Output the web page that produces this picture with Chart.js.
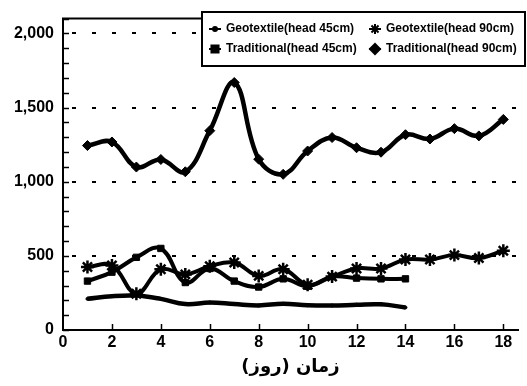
<!DOCTYPE html>
<html>
<head>
<meta charset="utf-8">
<script src="https://cdn.jsdelivr.net/npm/chart.js@4/dist/chart.umd.min.js"></script>
<style>
  html, body { margin: 0; padding: 0; background: #fff; }
  #wrap { width: 527px; height: 386px; position: relative; }
</style>
</head>
<body>
<div id="wrap"><canvas id="chart"></canvas></div>
<script>
// Days on the x axis
const daysLong = [1, 2, 3, 4, 5, 6, 7, 8, 9, 10, 11, 12, 13, 14, 15, 16, 17, 18];
const daysShort = [1, 2, 3, 4, 5, 6, 7, 8, 9, 10, 11, 12, 13, 14];
const xTickValues = [0, 2, 4, 6, 8, 10, 12, 14, 16, 18];

// Series values
const geotextile45 = [210, 228, 232, 210, 175, 185, 175, 166, 177, 167, 165, 170, 173, 152];
const geotextile90 = [425, 435, 245, 410, 375, 430, 455, 365, 410, 305, 360, 415, 415, 475, 475, 505, 485, 535];
const traditional45 = [330, 390, 490, 550, 320, 415, 330, 290, 345, 295, 360, 350, 345, 345];
const traditional90 = [1244, 1268, 1099, 1150, 1067, 1344, 1669, 1152, 1050, 1207, 1298, 1229, 1199, 1317, 1288, 1358, 1309, 1420];

// Labels
const seriesLabels = ['Geotextile(head 45cm)', 'Geotextile(head 90cm)', 'Traditional(head 45cm)', 'Traditional(head 90cm)'];
const xTitle = 'زمان (روز)';

// Turn x and y arrays into points for a linear x axis
function toPoints(xs, ys) {
  return ys.map((y, i) => ({ x: xs[i], y: y }));
}

// Draw tick marks pointing into the plot, plus the top frame line
const frameTicks = {
  id: 'frameTicks',
  afterDraw(chart) {
    const ctx = chart.ctx;
    const area = chart.chartArea;
    const xs = chart.scales.x;
    const ys = chart.scales.y;
    ctx.save();
    ctx.strokeStyle = '#000';
    ctx.lineWidth = 2;
    ctx.beginPath();
    ctx.moveTo(area.left - 1, area.top);
    ctx.lineTo(area.right, area.top);
    ctx.stroke();
    ctx.lineWidth = 1.5;
    for (let v = 0; v <= 2100; v += 100) {
      const py = Math.round(ys.getPixelForValue(v)) + 0.5;
      ctx.beginPath();
      ctx.moveTo(area.left, py);
      ctx.lineTo(area.left + 6, py);
      ctx.stroke();
    }
    xTickValues.slice(1).forEach(d => {
      const px = Math.round(xs.getPixelForValue(d)) + 0.5;
      ctx.beginPath();
      ctx.moveTo(px, area.bottom);
      ctx.lineTo(px, area.bottom - 6);
      ctx.stroke();
    });
    ctx.restore();
  }
};

// Boxed legend in the top right corner
const boxLegend = {
  id: 'boxLegend',
  afterDraw(chart) {
    const ctx = chart.ctx;
    ctx.save();
    ctx.fillStyle = '#fff';
    ctx.fillRect(202, 12, 323, 54);
    ctx.strokeStyle = '#000';
    ctx.lineWidth = 2;
    ctx.strokeRect(202, 12, 323, 54);
    const cols = [215, 375];
    const rows = [29, 49];
    ctx.font = 'bold 12px "Liberation Sans", Arial, sans-serif';
    ctx.textBaseline = 'middle';
    ctx.fillStyle = '#000';
    chart.data.datasets.forEach((ds, i) => {
      const cx = cols[i % 2];
      const cy = rows[Math.floor(i / 2)];
      ctx.lineWidth = 2;
      ctx.beginPath();
      ctx.moveTo(cx - 6, cy);
      ctx.lineTo(cx + 6, cy);
      ctx.stroke();
      Chart.helpers.drawPoint(ctx, {
        pointStyle: ds.pointStyle,
        radius: Math.min(ds.pointRadius + 0.5, 5),
        borderWidth: ds.pointBorderWidth,
        rotation: 0
      }, cx, cy);
      ctx.fillText(ds.label, cx + 11, cy);
    });
    ctx.restore();
  }
};

const commonLine = {
  borderColor: '#000',
  backgroundColor: '#000',
  pointBorderColor: '#000',
  pointBackgroundColor: '#000',
  tension: 0.4,
  fill: false
};

new Chart(document.getElementById('chart'), {
  type: 'line',
  data: {
    datasets: [
      Object.assign({}, commonLine, {
        label: seriesLabels[0],
        data: toPoints(daysShort, geotextile45),
        borderWidth: 4.5,
        pointStyle: 'circle',
        pointRadius: 1.5,
        pointBorderWidth: 1
      }),
      Object.assign({}, commonLine, {
        label: seriesLabels[1],
        data: toPoints(daysLong, geotextile90),
        borderWidth: 4,
        pointStyle: 'star',
        pointRadius: 6.5,
        pointBorderWidth: 2.5
      }),
      Object.assign({}, commonLine, {
        label: seriesLabels[2],
        data: toPoints(daysShort, traditional45),
        borderWidth: 4,
        pointStyle: 'rect',
        pointRadius: 4.5,
        pointBorderWidth: 1
      }),
      Object.assign({}, commonLine, {
        label: seriesLabels[3],
        data: toPoints(daysLong, traditional90),
        borderWidth: 4.5,
        pointStyle: 'rectRot',
        pointRadius: 5,
        pointBorderWidth: 1
      })
    ]
  },
  options: {
    responsive: true,
    maintainAspectRatio: false,
    animation: false,
    layout: { padding: { top: 15, right: 0, left: 0, bottom: 0 } },
    plugins: {
      legend: { display: false },
      tooltip: { enabled: false }
    },
    scales: {
      x: {
        type: 'linear',
        min: 0,
        max: 18.6,
        afterBuildTicks: scale => {
          scale.ticks = xTickValues.map(v => ({ value: v }));
        },
        afterFit: scale => { scale.height = 56; },
        ticks: {
          padding: 3,
          color: '#000',
          font: { family: '"Liberation Sans", Arial, sans-serif', size: 16, weight: 'bold' }
        },
        grid: { display: false, drawTicks: false },
        border: { display: true, color: '#000', width: 2 },
        title: {
          display: true,
          text: xTitle,
          color: '#000',
          padding: { top: 0, bottom: 8 },
          font: { family: '"DejaVu Sans", sans-serif', size: 18, weight: 'bold' }
        }
      },
      y: {
        min: 0,
        max: 2100,
        afterFit: scale => { scale.width = 63; },
        ticks: {
          stepSize: 100,
          autoSkip: false,
          padding: 9,
          color: '#000',
          font: { family: '"Liberation Sans", Arial, sans-serif', size: 16, weight: 'bold' },
          callback: v => (v % 500 === 0 && v <= 2000) ? v.toLocaleString('en-US') : ''
        },
        grid: {
          drawTicks: false,
          lineWidth: 2,
          color: ctx => (ctx.tick && ctx.tick.value % 500 === 0 && ctx.tick.value > 0 && ctx.tick.value <= 2000) ? '#000' : 'rgba(0,0,0,0)'
        },
        border: { display: true, color: '#000', width: 2, dash: [4, 16], dashOffset: -8 }
      }
    }
  },
  plugins: [frameTicks, boxLegend]
});
</script>
</body>
</html>
